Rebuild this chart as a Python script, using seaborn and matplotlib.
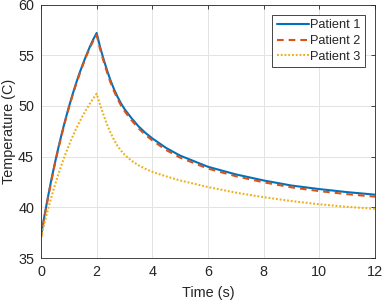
import pandas as pd
import seaborn as sns
import matplotlib.pyplot as plt

# values
time = [0, 0.125, 0.25, 0.375, 0.5, 0.625, 0.75, 0.875, 1.0, 1.125, 1.25, 1.375, 1.5, 1.625, 1.75, 1.875, 2.0,
        2.125, 2.25, 2.375, 2.5, 2.625, 2.75, 2.875, 3.0, 3.25, 3.5, 3.75, 4.0, 4.5, 5.0,
        6.0, 7.0, 8.0, 9.0, 10.0, 11.0, 12.0]
patient1 = [37.2, 39.17, 41.02, 42.76, 44.37, 45.89, 47.31, 48.64, 49.89, 51.05, 52.15, 53.17, 54.1, 54.98, 55.8, 56.55, 57.2,
            55.8, 54.6, 53.5, 52.5, 51.65, 50.9, 50.25, 49.7, 48.8, 48.0, 47.35, 46.8, 45.85, 45.1,
            44.0, 43.25, 42.65, 42.15, 41.8, 41.5, 41.25]
patient2 = [37.0, 39.05, 40.9, 42.65, 44.3, 45.8, 47.2, 48.55, 49.8, 50.95, 52.05, 53.05, 54.0, 54.9, 55.7, 56.4, 57.0,
            55.6, 54.4, 53.3, 52.3, 51.45, 50.7, 50.05, 49.5, 48.6, 47.8, 47.15, 46.6, 45.65, 44.9,
            43.82, 43.07, 42.47, 41.97, 41.6, 41.3, 41.05]
patient3 = [37.0, 38.44, 39.78, 41.03, 42.19, 43.28, 44.29, 45.22, 46.1, 46.91, 47.67, 48.37, 49.03, 49.64, 50.21, 50.74, 51.2,
            50.1, 49.1, 48.15, 47.35, 46.65, 46.05, 45.6, 45.2, 44.6, 44.15, 43.8, 43.5, 43.05, 42.65,
            42.0, 41.45, 41.0, 40.62, 40.3, 40.05, 39.85]
names = ['Patient 1', 'Patient 2', 'Patient 3']
colors = ['#0072BD', '#D95319', '#EDB120']
x_ticks = [0, 2, 4, 6, 8, 10, 12]
y_ticks = [35, 40, 45, 50, 55, 60]

df = pd.DataFrame({'Time': time * 3,
                   'Temp': patient1 + patient2 + patient3,
                   'Patient': [n for n in names for _ in time]})

sns.set_style('white')
plt.rcParams['font.family'] = ['Liberation Sans', 'DejaVu Sans']
plt.rcParams['text.color'] = '#262626'
plt.rcParams['axes.labelcolor'] = '#262626'

fig = plt.figure(figsize=(3.82, 3.05), dpi=100)
ax = fig.add_axes([0.1073, 0.154, 0.8744, 0.831])

sns.lineplot(data=df, x='Time', y='Temp', hue='Patient', style='Patient',
             palette=dict(zip(names, colors)),
             dashes={'Patient 1': '', 'Patient 2': (3.2, 2.4), 'Patient 3': (0.9, 0.9)},
             linewidth=1.5, ax=ax)

ax.set_xlim(0, 12)
ax.set_ylim(35, 60)
ax.set_xticks(x_ticks)
ax.set_yticks(y_ticks)
ax.grid(True, color='#e3e3e3', linewidth=0.7)
ax.set_axisbelow(True)
for s in ax.spines.values():
    s.set_color('#262626')
    s.set_linewidth(0.6)
ax.tick_params(direction='in', length=3, width=0.6, colors='#262626',
               labelsize=10.4, top=True, right=True, pad=5)
ax.set_xlabel('Time (s)', fontsize=10.4, labelpad=5)
ax.set_ylabel('Temperature (C)', fontsize=10.4)
ax.yaxis.set_label_coords(-0.074, 0.5)

handles, labels = ax.get_legend_handles_labels()
leg = ax.legend(handles, labels, loc='upper right', fontsize=9.2, frameon=True,
                fancybox=False, edgecolor='#262626', framealpha=1,
                handlelength=2.5, handletextpad=0.1, borderpad=0.35,
                labelspacing=0.3, borderaxespad=0.8)
leg.get_frame().set_linewidth(0.6)

fig.savefig('out.png', dpi=100)
